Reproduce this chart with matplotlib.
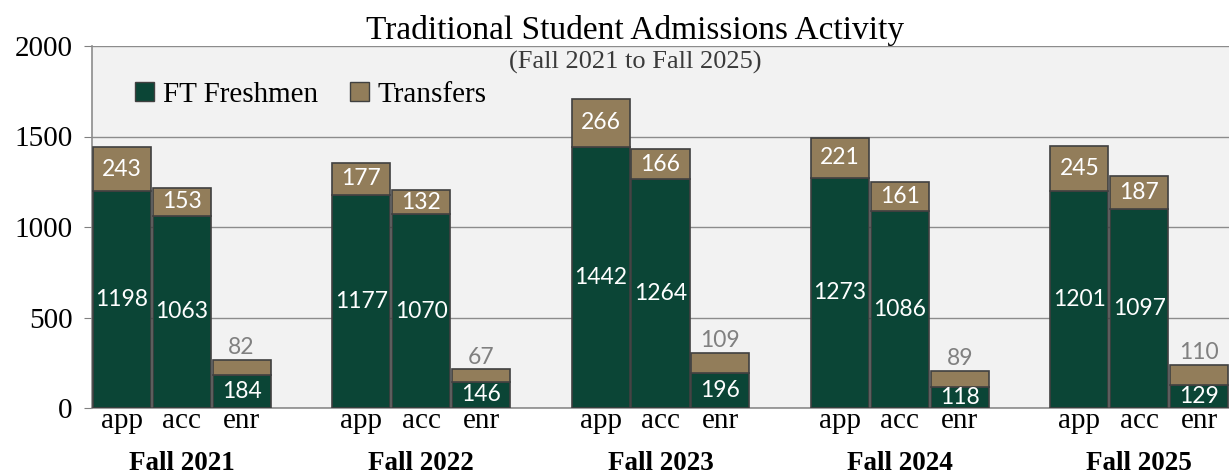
import matplotlib
matplotlib.use("Agg")
import matplotlib.pyplot as plt
import matplotlib.patheffects as pe
from matplotlib.patches import Patch
import numpy as np

terms = ["Fall 2021", "Fall 2022", "Fall 2023", "Fall 2024", "Fall 2025"]
stages = ["app", "acc", "enr"]
freshmen = [[1198, 1063, 184], [1177, 1070, 146], [1442, 1264, 196],
            [1273, 1086, 118], [1201, 1097, 129]]
transfers = [[243, 153, 82], [177, 132, 67], [266, 166, 109],
             [221, 161, 89], [245, 187, 110]]
yticks = [0, 500, 1000, 1500, 2000]

GREEN = "#0B4536"
TAN = "#927D5A"
EDGE = "#404040"
SERIF = ["Liberation Serif", "DejaVu Serif"]
NUMF = ["Lato", "DejaVu Sans"]

fig = plt.figure(figsize=(12.29, 4.75), dpi=100)
ax = fig.add_axes([92/1229, (475-408)/475, 1 - 92/1229, (408-46)/475])
ax.set_facecolor("#F2F2F2")

xs, xl = [], []
for g, term in enumerate(terms):
    for k, st in enumerate(stages):
        x = g * 4 + k
        xs.append(x); xl.append(st)
        f = freshmen[g][k]; t = transfers[g][k]
        ax.bar(x, f, width=0.97, color=GREEN, edgecolor=EDGE, linewidth=1.2, zorder=3)
        ax.bar(x, t, bottom=f, width=0.97, color=TAN, edgecolor=EDGE, linewidth=1.2, zorder=3)
        ax.text(x, f / 2, str(f), ha="center", va="center", color="white",
                fontsize=16.5, family=NUMF, zorder=5)
        if k < 2:
            ax.text(x, f + t / 2, str(t), ha="center", va="center", color="white",
                    fontsize=16.5, family=NUMF, zorder=5)
        else:
            ax.text(x, f + t + 10, str(t), ha="center", va="bottom", color="#808080",
                    fontsize=16.5, family=NUMF, zorder=5)
    ax.text(g * 4 + 1, -0.152, term, transform=ax.get_xaxis_transform(), ha="center",
            va="center", fontsize=19.5, family=SERIF, fontweight="bold", clip_on=False)

ax.set_xlim(-0.5, 18.5)
ax.set_ylim(0, 2000)
ax.set_yticks(yticks)
ax.set_yticklabels([str(v) for v in yticks], fontsize=21, family=SERIF)
ax.set_xticks(xs)
ax.set_xticklabels(xl, fontsize=21, family=SERIF)
ax.tick_params(axis="x", length=0, pad=0)
ax.tick_params(axis="y", length=6, color="#808080", pad=8)
ax.grid(axis="y", color="#8C8C8C", linewidth=1, zorder=0)
for s in ["top", "right"]:
    ax.spines[s].set_visible(False)
for s in ["left", "bottom"]:
    ax.spines[s].set_color("#8C8C8C")
    ax.spines[s].set_linewidth(1.2)

fig.text(635/1229, 1 - 30/475, "Traditional Student Admissions Activity", ha="center",
         va="center", fontsize=24, family=SERIF)
fig.text(635/1229, 1 - 62/475, "(Fall 2021 to Fall 2025)", ha="center",
         va="center", fontsize=19, family=SERIF, color="#3A3A3A")

handles = [Patch(facecolor=GREEN, edgecolor=EDGE), Patch(facecolor=TAN, edgecolor=EDGE)]
ax.legend(handles, ["FT Freshmen", "Transfers"], loc="center left",
          bbox_to_anchor=(0.025, 1 - (95 - 46) / 362),
          ncol=2, frameon=False, prop={"family": SERIF, "size": 21}, handlelength=0.65,
          handleheight=0.65, handletextpad=0.3, columnspacing=1.1, borderpad=0)

fig.savefig("out.png", dpi=100)
